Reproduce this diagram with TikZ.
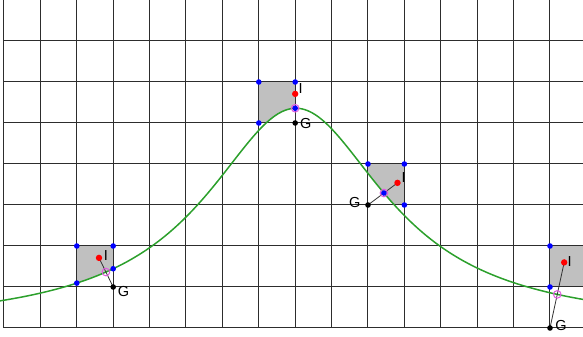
\documentclass[tikz,border=0pt]{standalone}
\usepackage{fontspec}
\setmainfont{Liberation Sans}
\usetikzlibrary{intersections}
\definecolor{curvegreen}{RGB}{44,160,44}
\definecolor{ringpink}{RGB}{225,90,225}
\definecolor{gridline}{RGB}{45,45,45}
\definecolor{cellgray}{RGB}{192,192,192}
\definecolor{linkgray}{RGB}{50,50,50}
\begin{document}
\begin{tikzpicture}[x=36.4pt,y=41pt,
  declare function={f(\t)=5.36/(1+((\t-8.02)/3.05)^2);},
  gridstroke/.style={draw=gridline,line width=1pt},
  cellfill/.style={fill=cellgray},
  curvestroke/.style={draw=curvegreen,line width=1.5pt},
  linkline/.style={draw=linkgray,line width=0.8pt},
  bluedot/.style={fill=blue},
  reddot/.style={fill=red},
  blackdot/.style={fill=black},
  ringstyle/.style={draw=ringpink,line width=1pt},
  lbl/.style={inner sep=0pt,font=\fontsize{14.5}{17}\selectfont}
]
\useasboundingbox (-0.1099,-0.2195) rectangle (15.907,8);
% cells
\begin{scope}
\clip (2,1) rectangle (3,2);
\fill[cellfill] plot[domain=2:3,samples=30] (\x,{f(\x)}) -- (3,2.2) -- (2,2.2) -- cycle;
\end{scope}
\begin{scope}
\clip (7,5) rectangle (8,6);
\fill[cellfill] plot[domain=7:8,samples=30] (\x,{f(\x)}) -- (8,6.2) -- (7,6.2) -- cycle;
\end{scope}
\begin{scope}
\clip (10,3) rectangle (11,4);
\fill[cellfill] plot[domain=9.5:11.5,samples=40] (\x,{f(\x)}) -- (11.5,4.2) -- (9.5,4.2) -- cycle;
\end{scope}
\begin{scope}
\clip (15,1) rectangle (15.907,2);
\fill[cellfill] (15,1) rectangle (16,2);
\end{scope}
% grid
\foreach \i in {0,...,15} \draw[gridstroke] (\i,0) -- (\i,8);
\foreach \j in {0,...,7} \draw[gridstroke] (0,\j) -- (15.907,\j);
% curve
\draw[curvestroke,name path=curve] plot[domain=-0.11:15.91,samples=240] (\x,{f(\x)});
% I and G points
\coordinate (I1) at (2.61,1.71);  \coordinate (G1) at (3,1);
\coordinate (I2) at (8,5.71);     \coordinate (G2) at (8,5);
\coordinate (I3) at (10.81,3.54); \coordinate (G3) at (10,3);
\coordinate (I4) at (15.39,1.60); \coordinate (G4) at (15,0);
\foreach \k in {1,2,3,4} {
  \draw[linkline,name path global=link\k] (I\k) -- (G\k);
}
\path[name intersections={of=curve and link1,by=P1}];
\path[name intersections={of=curve and link2,by=P2}];
\path[name intersections={of=curve and link3,by=P3}];
\path[name intersections={of=curve and link4,by=P4}];
% blue dots
\coordinate (B1a) at (2,2); \coordinate (B1b) at (3,2);
\coordinate (B1c) at (3,{f(3)}); \coordinate (B1d) at (2,{f(2)});
\coordinate (B2a) at (7,6); \coordinate (B2b) at (8,6); \coordinate (B2c) at (7,5);
\coordinate (B3a) at (10,4); \coordinate (B3b) at (11,4); \coordinate (B3c) at (11,3);
\coordinate (B4a) at (15,2); \coordinate (B4b) at (15,1);
\foreach \b in {B1a,B1b,B1c,B1d,B2a,B2b,B2c,B3a,B3b,B3c,B4a,B4b,P2,P3}
  \fill[bluedot] (\b) circle[radius=2.8pt];
\foreach \k in {1,2,3,4} {
  \fill[reddot] (I\k) circle[radius=3.2pt];
  \fill[blackdot] (G\k) circle[radius=2.8pt];
  \draw[ringstyle] (P\k) circle[radius=3.8pt];
}
% labels
\node[lbl] (tI1) at (2.80,1.77) {I};
\node[lbl] (tG1) at (3.28,0.885) {G};
\node[lbl] (tI2) at (8.15,5.85) {I};
\node[lbl] (tG2) at (8.29,4.99) {G};
\node[lbl] (tI3) at (10.98,3.68) {I};
\node[lbl] (tG3) at (9.64,3.07) {G};
\node[lbl] (tI4) at (15.54,1.62) {I};
\node[lbl] (tG4) at (15.30,0.056) {G};
\end{tikzpicture}
\end{document}
